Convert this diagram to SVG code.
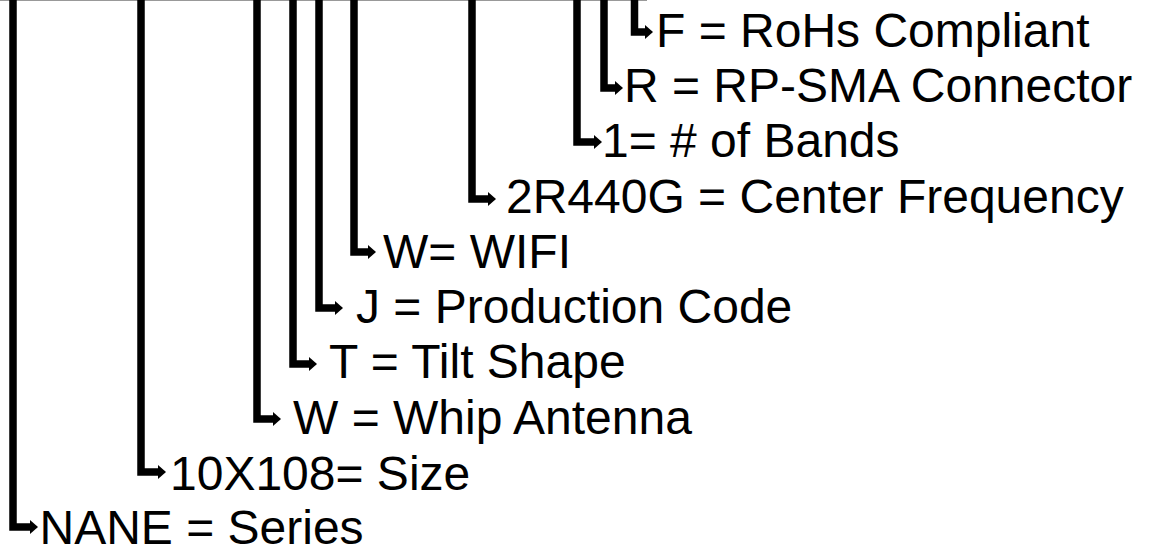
<svg xmlns="http://www.w3.org/2000/svg" width="1151" height="548" viewBox="0 0 1151 548">
<style>
.lbl{font-family:"Liberation Sans",Arial,sans-serif;font-size:48px;fill:#000}
.conn{fill:none;stroke:#000;stroke-width:7.5;stroke-linejoin:miter;stroke-linecap:butt}
</style>
<defs>
<marker id="ah" markerUnits="userSpaceOnUse" viewBox="0 0 8 14" markerWidth="8" markerHeight="14" refX="0" refY="7" orient="auto">
<path d="M0,0 L8,7 L0,14 Z" fill="#000"/>
</marker>
</defs>
<rect width="1151" height="548" fill="#fff"/>
<line x1="0" y1="0.5" x2="647" y2="0.5" stroke="#999" stroke-width="1.2"/>
<g id="connectors">
<path class="conn" d="M634.5,0 V32 H645" marker-end="url(#ah)"/>
<path class="conn" d="M604,0 V88 H615" marker-end="url(#ah)"/>
<path class="conn" d="M577,0 V142 H594" marker-end="url(#ah)"/>
<path class="conn" d="M472,0 V199 H488" marker-end="url(#ah)"/>
<path class="conn" d="M354,0 V252 H368" marker-end="url(#ah)"/>
<path class="conn" d="M319,0 V308 H335" marker-end="url(#ah)"/>
<path class="conn" d="M293,0 V364 H309" marker-end="url(#ah)"/>
<path class="conn" d="M257,0 V419 H273" marker-end="url(#ah)"/>
<path class="conn" d="M141,0 V472 H158" marker-end="url(#ah)"/>
<path class="conn" d="M13,0 V527 H30" marker-end="url(#ah)"/>
</g>
<g id="node-f"><text class="lbl" x="656" y="47">F = RoHs Compliant</text></g>
<g id="node-r"><text class="lbl" x="624" y="102">R = RP-SMA Connector</text></g>
<g id="node-1"><text class="lbl" x="602" y="157">1= # of Bands</text></g>
<g id="node-2r440g"><text class="lbl" x="506" y="213">2R440G = Center Frequency</text></g>
<g id="node-wifi"><text class="lbl" x="383" y="268">W= WIFI</text></g>
<g id="node-j"><text class="lbl" x="356" y="323">J = Production Code</text></g>
<g id="node-t"><text class="lbl" x="329" y="378">T = Tilt Shape</text></g>
<g id="node-whip"><text class="lbl" x="293" y="434">W = Whip Antenna</text></g>
<g id="node-size"><text class="lbl" x="170" y="490">10X108= Size</text></g>
<g id="node-nane"><text class="lbl" x="39.5" y="544">NANE = Series</text></g>
</svg>
